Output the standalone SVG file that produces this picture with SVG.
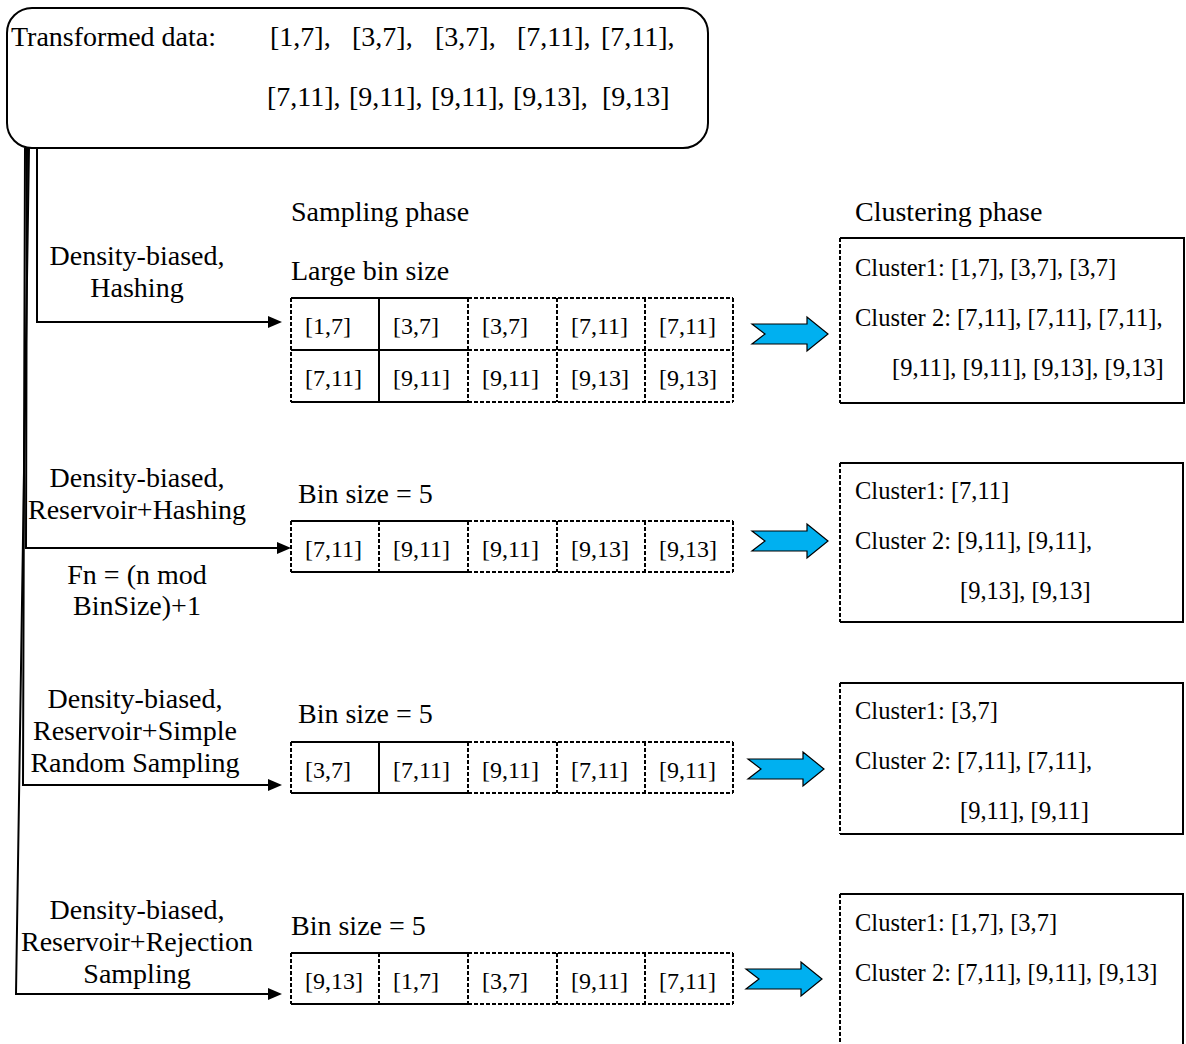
<svg xmlns="http://www.w3.org/2000/svg" xmlns:xlink="http://www.w3.org/1999/xlink" width="1186" height="1044" viewBox="0 0 1186 1044">
<style>
text{font-family:"Liberation Serif","Times New Roman",serif;fill:#000}
.t28{font-size:28px}
.lbl{font-size:28px;text-anchor:middle}
.cell{font-size:24px}
.cl{font-size:24.5px}
.solid{fill:none;stroke:#000;stroke-width:2}
.dash{fill:none;stroke:#000;stroke-width:2;stroke-dasharray:4 2}
.conn{fill:none;stroke:#000;stroke-width:2}
.blk{fill:#00B0F0;stroke:#000;stroke-width:1.2}
</style>
<defs>
<marker id="ah" viewBox="0 0 14 12" refX="0" refY="6" markerWidth="14" markerHeight="12" markerUnits="userSpaceOnUse" orient="auto">
<path d="M0,0 L14,6 L0,12 Z" fill="#000"/>
</marker>
<path id="blkarrow" class="blk" d="M0,-10 L55,-10 L55,-17 L76,0 L55,17 L55,10 L0,10 L13,0 Z"/>
</defs>
<rect width="1186" height="1044" fill="#fff"/>

<g id="source">
<rect x="7" y="8" width="701" height="140" rx="25" ry="25" class="solid"/>
<text class="t28" x="11" y="46">Transformed data:</text>
<text class="t28" x="270" y="46">[1,7],</text>
<text class="t28" x="352" y="46">[3,7],</text>
<text class="t28" x="435" y="46">[3,7],</text>
<text class="t28" x="517" y="46">[7,11],</text>
<text class="t28" x="601" y="46">[7,11],</text>
<text class="t28" x="267" y="106">[7,11],</text>
<text class="t28" x="349" y="106">[9,11],</text>
<text class="t28" x="431" y="106">[9,11],</text>
<text class="t28" x="513" y="106">[9,13],</text>
<text class="t28" x="602" y="106">[9,13]</text>
</g>

<g id="connectors">
<path class="conn" d="M37,148 V322 H268" marker-end="url(#ah)"/>
<path class="conn" d="M27,148 L26,548 H277" marker-end="url(#ah)"/>
<path class="conn" d="M25,148 L23,785 H268" marker-end="url(#ah)"/>
<path class="conn" d="M29,148 L16,994 H268" marker-end="url(#ah)"/>
<use xlink:href="#blkarrow" x="752" y="334"/>
<use xlink:href="#blkarrow" x="752" y="541"/>
<use xlink:href="#blkarrow" x="748" y="769"/>
<use xlink:href="#blkarrow" x="746" y="979"/>
</g>

<g id="headers">
<text class="t28" x="291" y="221">Sampling phase</text>
<text class="t28" x="855" y="221">Clustering phase</text>
</g>

<g id="label1">
<text class="lbl" x="137" y="265">Density-biased,</text>
<text class="lbl" x="137" y="297">Hashing</text>
</g>
<g id="label2">
<text class="lbl" x="137" y="487">Density-biased,</text>
<text class="lbl" x="137" y="519">Reservoir+Hashing</text>
<text class="lbl" x="137" y="584">Fn = (n mod</text>
<text class="lbl" x="137" y="615">BinSize)+1</text>
</g>
<g id="label3">
<text class="lbl" x="135" y="708">Density-biased,</text>
<text class="lbl" x="135" y="740">Reservoir+Simple</text>
<text class="lbl" x="135" y="772">Random Sampling</text>
</g>
<g id="label4">
<text class="lbl" x="137" y="919">Density-biased,</text>
<text class="lbl" x="137" y="951">Reservoir+Rejection</text>
<text class="lbl" x="137" y="983">Sampling</text>
</g>

<g id="grid1">
<text class="t28" x="291" y="280">Large bin size</text>
<path class="solid" d="M291,298 H468 M291,350 H468 M291,402 H468 M379,298 V402"/>
<path class="dash" d="M468,298 H733 M468,350 H733 M468,402 H733 M291,298 V402 M468,298 V402 M557,298 V402 M645,298 V402 M733,298 V402"/>
<text class="cell" x="305" y="334">[1,7]</text>
<text class="cell" x="393" y="334">[3,7]</text>
<text class="cell" x="482" y="334">[3,7]</text>
<text class="cell" x="571" y="334">[7,11]</text>
<text class="cell" x="659" y="334">[7,11]</text>
<text class="cell" x="305" y="386">[7,11]</text>
<text class="cell" x="393" y="386">[9,11]</text>
<text class="cell" x="482" y="386">[9,11]</text>
<text class="cell" x="571" y="386">[9,13]</text>
<text class="cell" x="659" y="386">[9,13]</text>
</g>

<g id="grid2">
<text class="t28" x="298" y="503">Bin size = 5</text>
<path class="solid" d="M291,521 H468 M291,572 H468"/>
<path class="dash" d="M468,521 H733 M468,572 H733 M291,521 V572 M379,521 V572 M468,521 V572 M557,521 V572 M645,521 V572 M733,521 V572"/>
<text class="cell" x="305" y="557">[7,11]</text>
<text class="cell" x="393" y="557">[9,11]</text>
<text class="cell" x="482" y="557">[9,11]</text>
<text class="cell" x="571" y="557">[9,13]</text>
<text class="cell" x="659" y="557">[9,13]</text>
</g>

<g id="grid3">
<text class="t28" x="298" y="723">Bin size = 5</text>
<path class="solid" d="M291,742 H468 M291,793 H468 M379,742 V793"/>
<path class="dash" d="M468,742 H733 M468,793 H733 M291,742 V793 M468,742 V793 M557,742 V793 M645,742 V793 M733,742 V793"/>
<text class="cell" x="305" y="778">[3,7]</text>
<text class="cell" x="393" y="778">[7,11]</text>
<text class="cell" x="482" y="778">[9,11]</text>
<text class="cell" x="571" y="778">[7,11]</text>
<text class="cell" x="659" y="778">[9,11]</text>
</g>

<g id="grid4">
<text class="t28" x="291" y="935">Bin size = 5</text>
<path class="solid" d="M291,953 H468 M291,1004 H468"/>
<path class="dash" d="M468,953 H733 M468,1004 H733 M291,953 V1004 M379,953 V1004 M468,953 V1004 M557,953 V1004 M645,953 V1004 M733,953 V1004"/>
<text class="cell" x="305" y="989">[9,13]</text>
<text class="cell" x="393" y="989">[1,7]</text>
<text class="cell" x="482" y="989">[3,7]</text>
<text class="cell" x="571" y="989">[9,11]</text>
<text class="cell" x="659" y="989">[7,11]</text>
</g>

<g id="cluster1">
<path class="solid" d="M840,238 H1184 V403 H840"/>
<path class="dash" d="M840,238 V403"/>
<text class="cl" x="855" y="276">Cluster1: [1,7], [3,7], [3,7]</text>
<text class="cl" x="855" y="326">Cluster 2: [7,11], [7,11], [7,11],</text>
<text class="cl" x="892" y="376">[9,11], [9,11], [9,13], [9,13]</text>
</g>
<g id="cluster2">
<path class="solid" d="M840,463 H1183 V622 H840"/>
<path class="dash" d="M840,463 V622"/>
<text class="cl" x="855" y="499">Cluster1: [7,11]</text>
<text class="cl" x="855" y="549">Cluster 2: [9,11], [9,11],</text>
<text class="cl" x="960" y="599">[9,13], [9,13]</text>
</g>
<g id="cluster3">
<path class="solid" d="M840,683 H1183 V834 H840"/>
<path class="dash" d="M840,683 V834"/>
<text class="cl" x="855" y="719">Cluster1:  [3,7]</text>
<text class="cl" x="855" y="769">Cluster 2: [7,11], [7,11],</text>
<text class="cl" x="960" y="819">[9,11], [9,11]</text>
</g>
<g id="cluster4">
<path class="solid" d="M840,894 H1183 V1050"/>
<path class="dash" d="M840,894 V1050"/>
<text class="cl" x="855" y="931">Cluster1: [1,7], [3,7]</text>
<text class="cl" x="855" y="981">Cluster 2: [7,11], [9,11], [9,13]</text>
</g>
</svg>
